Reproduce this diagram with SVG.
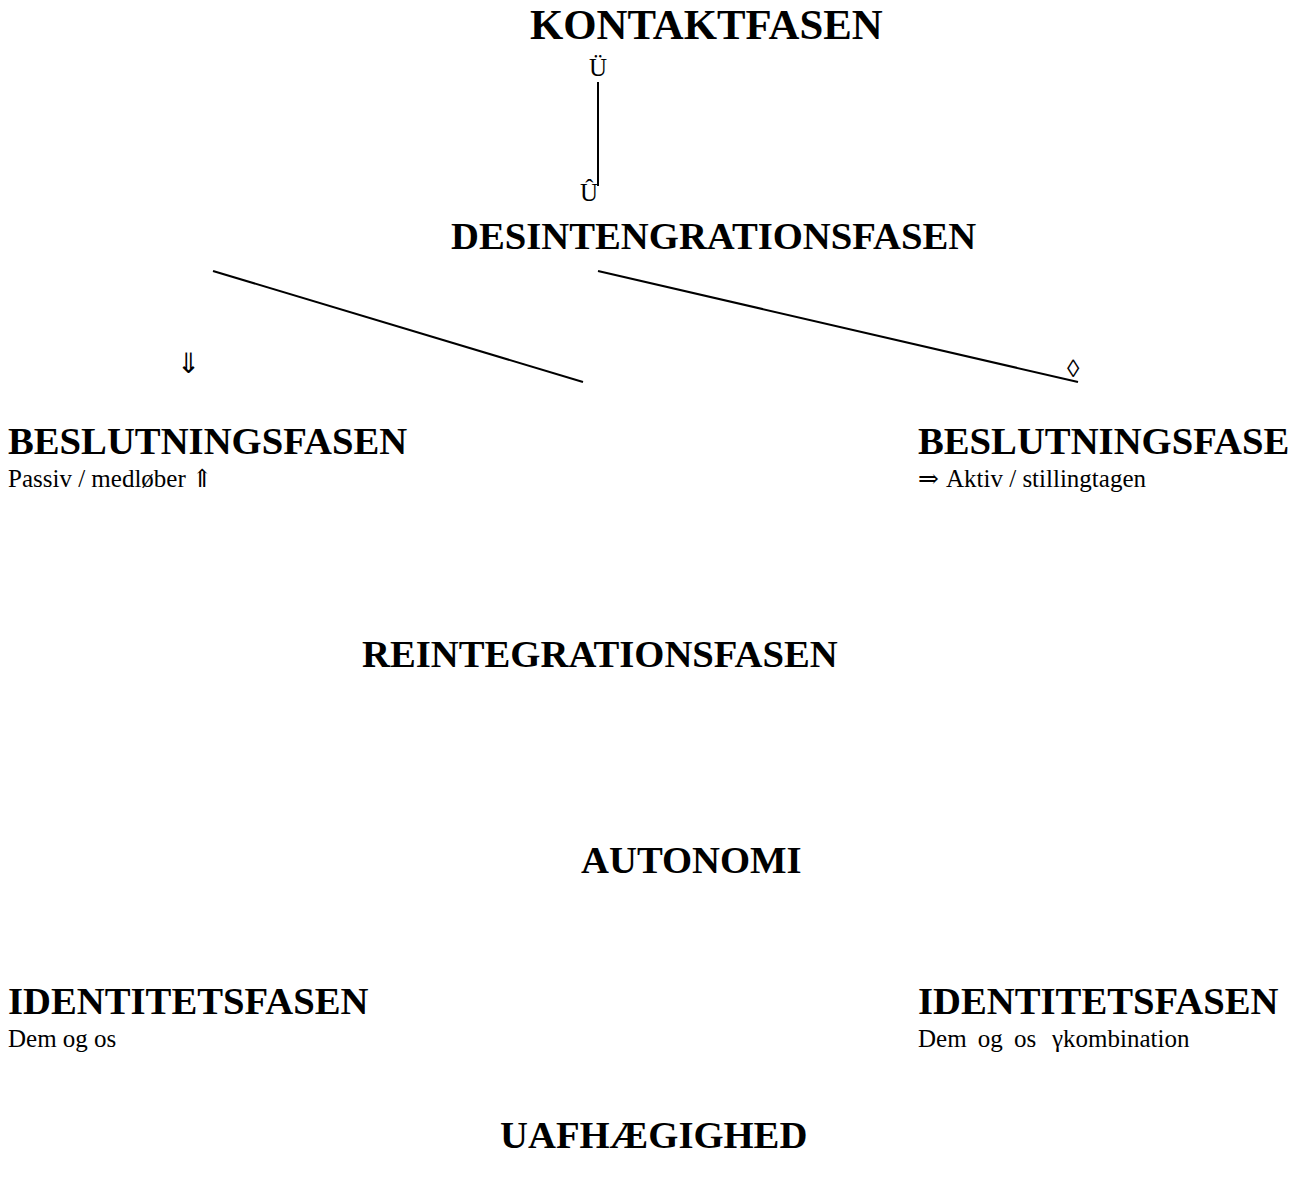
<svg xmlns="http://www.w3.org/2000/svg" width="1300" height="1191" viewBox="0 0 1300 1191">
<style>
.h{font-family:"Liberation Serif","Times New Roman",serif;font-weight:bold;font-size:38.7px;fill:#000}
.t{font-family:"Liberation Serif","DejaVu Serif",serif;font-size:25px;fill:#000}
.s{font-family:"Liberation Serif","DejaVu Serif",serif;font-size:25px;fill:#000}
.c{stroke:#000;stroke-width:2;fill:none}
</style>
<rect width="1300" height="1191" fill="#fff"/>
<g id="kontaktfasen"><text class="h" x="530" y="39" style="font-size:42.8px">KONTAKTFASEN</text></g>
<g id="desintegrationsfasen"><text class="h" x="451" y="249">DESINTENGRATIONSFASEN</text></g>
<g id="beslutning-passiv"><text class="h" x="8" y="454">BESLUTNINGSFASEN</text><text class="t" x="8" y="487">Passiv / medløber ⇑</text></g>
<g id="beslutning-aktiv"><text class="h" x="918" y="454">BESLUTNINGSFASE</text><text class="t" x="918" y="487">⇒<tspan x="946">Aktiv / stillingtagen</tspan></text></g>
<g id="reintegrationsfasen"><text class="h" x="362" y="667">REINTEGRATIONSFASEN</text></g>
<g id="autonomi"><text class="h" x="581" y="873">AUTONOMI</text></g>
<g id="identitet-1"><text class="h" x="8" y="1014">IDENTITETSFASEN</text><text class="t" x="8" y="1047">Dem og os</text></g>
<g id="identitet-2"><text class="h" x="918" y="1014">IDENTITETSFASEN</text><text class="t" x="918" y="1047" style="word-spacing:5px">Dem og os<tspan x="1052" style="word-spacing:0">γkombination</tspan></text></g>
<g id="uafhaegighed"><text class="h" x="500" y="1148">UAFHÆGIGHED</text></g>
<g id="connectors">
<line class="c" x1="598" y1="82" x2="598" y2="186"/>
<line class="c" x1="213" y1="271" x2="583" y2="382"/>
<line class="c" x1="598" y1="271" x2="1078" y2="382"/>
<text class="s" x="589" y="76">Ü</text>
<text class="s" x="580" y="201">Û</text>
<text class="s" x="177" y="373" style="font-family:'DejaVu Sans',sans-serif;font-size:28px">⇓</text>
<text class="s" x="1067" y="377">◊</text>
</g>
</svg>
